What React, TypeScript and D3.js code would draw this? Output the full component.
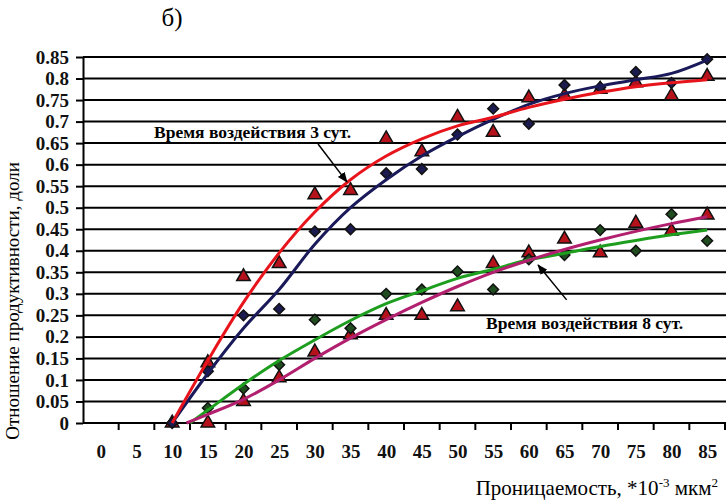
import React, { useRef, useEffect } from 'react';
import * as d3 from 'd3';

// permeability categories, *10^-3 mkm^2
const xTickLabels = [0, 5, 10, 15, 20, 25, 30, 35, 40, 45, 50, 55, 60, 65, 70, 75, 80, 85];
const yTickValues = [0, 0.05, 0.1, 0.15, 0.2, 0.25, 0.3, 0.35, 0.4, 0.45, 0.5, 0.55, 0.6, 0.65, 0.7, 0.75, 0.8, 0.85];

// 3 days exposure
const perm3 = [10, 15, 20, 25, 30, 35, 40, 45, 50, 55, 60, 65, 70, 75, 80, 85];
const tri3 = [0, 0.14, 0.34, 0.37, 0.53, 0.54, 0.66, 0.63, 0.71, 0.675, 0.755, 0.76, 0.775, 0.79, 0.76, 0.805];
const dia3 = [0, 0.12, 0.25, 0.265, 0.445, 0.45, 0.58, 0.59, 0.67, 0.73, 0.695, 0.785, 0.78, 0.815, 0.79, 0.845];
const trendTri3 = [0, 0.145, 0.28, 0.395, 0.49, 0.565, 0.62, 0.66, 0.69, 0.71, 0.733, 0.752, 0.768, 0.781, 0.79, 0.797];
const trendDia3 = [0, 0.115, 0.22, 0.31, 0.415, 0.5, 0.565, 0.62, 0.665, 0.705, 0.74, 0.765, 0.783, 0.797, 0.812, 0.843];

// 8 days exposure
const perm8 = [15, 20, 25, 30, 35, 40, 45, 50, 55, 60, 65, 70, 75, 80, 85];
const dia8 = [0.035, 0.08, 0.135, 0.24, 0.22, 0.3, 0.31, 0.352, 0.31, 0.38, 0.39, 0.448, 0.4, 0.485, 0.423];
const tri8 = [0, 0.05, 0.105, 0.165, 0.205, 0.25, 0.25, 0.27, 0.37, 0.395, 0.427, 0.395, 0.464, 0.446, 0.483];
const trendPermGreen = [12.5, 15, 20, 25, 30, 35, 40, 45, 50, 55, 60, 65, 70, 75, 80, 85];
const trendDia8 = [0, 0.03, 0.09, 0.145, 0.193, 0.238, 0.277, 0.307, 0.336, 0.357, 0.379, 0.394, 0.41, 0.424, 0.437, 0.448];
const trendPermPink = [12, 15, 20, 25, 30, 35, 40, 45, 50, 55, 60, 65, 70, 75, 80, 85];
const trendTri8 = [0, 0.02, 0.055, 0.1, 0.15, 0.197, 0.24, 0.28, 0.317, 0.35, 0.378, 0.403, 0.425, 0.445, 0.463, 0.479];

const FONT = '"Liberation Serif", "Times New Roman", serif';

const App = () => {
  const svgRef = useRef<SVGSVGElement>(null);

  useEffect(() => {
    const width = 726;
    const height = 500;
    const left = 83, right = 725, top = 57, bottom = 423;

    const svg = d3.select(svgRef.current)
      .attr('width', width)
      .attr('height', height)
      .style('background', '#fff');
    svg.selectAll('*').remove();

    const x = d3.scaleLinear().domain([-2.5, 87.5]).range([left, right]);
    const y = d3.scaleLinear().domain([0, 0.85]).range([bottom, top]);

    svg.append('defs').append('marker')
      .attr('id', 'arrow')
      .attr('viewBox', '0 0 10 10')
      .attr('refX', 9).attr('refY', 5)
      .attr('markerWidth', 7).attr('markerHeight', 7)
      .attr('orient', 'auto')
      .append('path').attr('d', 'M0,1 L10,5 L0,9 Z').attr('fill', '#000');

    // horizontal grid
    svg.append('g').selectAll('line')
      .data(yTickValues)
      .enter().append('line')
      .attr('x1', left).attr('x2', width)
      .attr('y1', d => y(d)).attr('y2', d => y(d))
      .attr('stroke', '#000').attr('stroke-width', 2);

    // y axis
    const yAxis = svg.append('g')
      .attr('transform', `translate(${left},0)`)
      .call(d3.axisLeft(y).tickValues(yTickValues).tickSizeInner(7).tickSizeOuter(0).tickPadding(7)
        .tickFormat(d => String(d)));
    yAxis.select('.domain').attr('stroke', '#000').attr('stroke-width', 2);
    yAxis.selectAll('.tick line').attr('stroke-width', 2);
    yAxis.selectAll('text').style('font-family', FONT).style('font-size', '19px')
      .style('font-weight', 'bold').attr('fill', '#111');

    // x axis labels (categories centred between tick marks)
    const xAxis = svg.append('g')
      .attr('transform', `translate(0,${bottom})`)
      .call(d3.axisBottom(x).tickValues(xTickLabels).tickSize(0).tickPadding(22));
    xAxis.select('.domain').remove();
    xAxis.selectAll('text').style('font-family', FONT).style('font-size', '19px')
      .style('font-weight', 'bold').attr('fill', '#111');

    svg.append('g').selectAll('line')
      .data(xTickLabels)
      .enter().append('line')
      .attr('x1', d => x(d + 2.5)).attr('x2', d => x(d + 2.5))
      .attr('y1', bottom).attr('y2', bottom + 7)
      .attr('stroke', '#000').attr('stroke-width', 2);

    // trend lines
    const drawTrend = (xs: number[], ys: number[], color: string) => {
      const line = d3.line<number>()
        .x((_, i) => x(xs[i]))
        .y(d => y(d))
        .curve(d3.curveCatmullRom);
      svg.append('path')
        .datum(ys)
        .attr('d', line)
        .attr('fill', 'none')
        .attr('stroke', color)
        .attr('stroke-width', 3);
    };

    const drawPoints = (xs: number[], ys: number[], kind: 'tri' | 'dia', fill: string) => {
      const sym = kind === 'tri'
        ? d3.symbol().type(d3.symbolTriangle).size(80)
        : d3.symbol().type(d3.symbolSquare).size(58);
      svg.append('g').selectAll('path')
        .data(ys)
        .enter().append('path')
        .attr('d', sym)
        .attr('transform', (d, i) => `translate(${x(xs[i])},${y(d)})` + (kind === 'dia' ? ' rotate(45)' : ''))
        .attr('fill', fill)
        .attr('stroke', '#111')
        .attr('stroke-width', 1.5);
    };

    drawPoints(perm8, tri8, 'tri', '#b5121b');
    drawPoints(perm8, dia8, 'dia', '#1f4d1f');
    drawPoints(perm3, tri3, 'tri', '#b5121b');
    drawPoints(perm3, dia3, 'dia', '#1b1b4f');

    drawTrend(trendPermGreen, trendDia8, '#1e9e1e');
    drawTrend(trendPermPink, trendTri8, '#b21f6e');
    drawTrend(perm3, trendDia3, '#1a1a5a');
    drawTrend(perm3, trendTri3, '#e8141c');

    // annotations
    svg.append('text')
      .attr('x', 154).attr('y', 138)
      .style('font-family', FONT).style('font-size', '17.5px').style('font-weight', 'bold')
      .text('Время воздействия 3 сут.');
    svg.append('line')
      .attr('x1', x(30.45)).attr('y1', y(0.648))
      .attr('x2', x(34.5)).attr('y2', y(0.56))
      .attr('stroke', '#000').attr('stroke-width', 1.5)
      .attr('marker-end', 'url(#arrow)');

    svg.append('text')
      .attr('x', 486).attr('y', 329)
      .style('font-family', FONT).style('font-size', '17.5px').style('font-weight', 'bold')
      .text('Время воздействия 8 сут.');
    svg.append('line')
      .attr('x1', x(65.3)).attr('y1', y(0.286))
      .attr('x2', x(61.3)).attr('y2', y(0.367))
      .attr('stroke', '#000').attr('stroke-width', 1.5)
      .attr('marker-end', 'url(#arrow)');

    // titles
    svg.append('text')
      .attr('x', 172).attr('y', 26)
      .attr('text-anchor', 'middle')
      .style('font-family', FONT).style('font-size', '25px')
      .text('б)');

    svg.append('text')
      .attr('transform', 'translate(19,301) rotate(-90)')
      .attr('text-anchor', 'middle')
      .style('font-family', FONT).style('font-size', '19px')
      .text('Отношение продуктивности, доли');

    const xt = svg.append('text')
      .attr('x', 718).attr('y', 495)
      .attr('text-anchor', 'end')
      .style('font-family', FONT).style('font-size', '21px');
    xt.append('tspan').text('Проницаемость, *10');
    xt.append('tspan').attr('dy', -8).style('font-size', '13px').text('-3');
    xt.append('tspan').attr('dy', 8).text(' мкм');
    xt.append('tspan').attr('dy', -8).style('font-size', '13px').text('2');
  }, []);

  return (
    <svg ref={svgRef} style={{ position: 'absolute', left: 0, top: 0 }}></svg>
  );
};

export default App;
